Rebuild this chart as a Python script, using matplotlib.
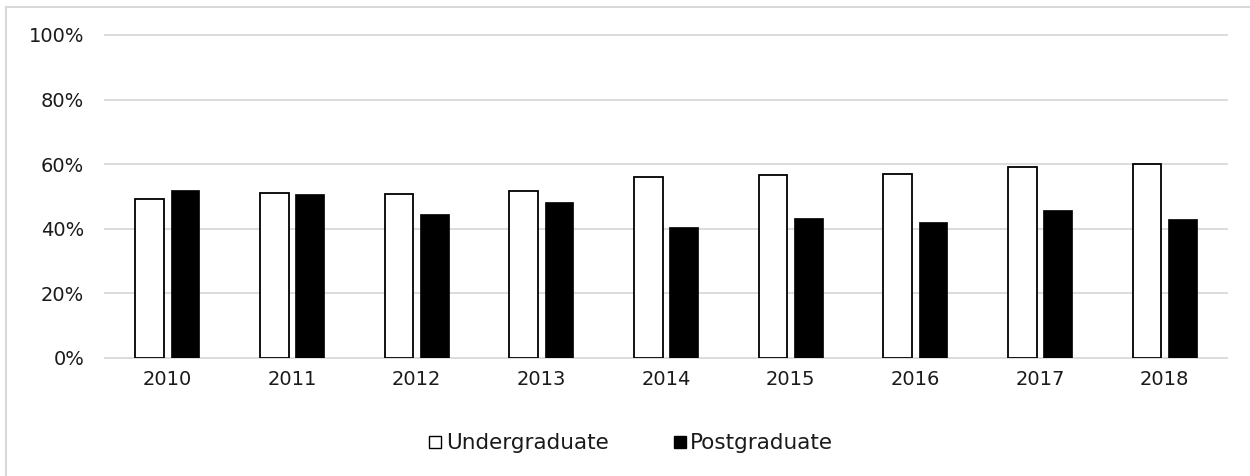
import numpy as np
import matplotlib
matplotlib.use('Agg')
from matplotlib import pyplot as plt
from matplotlib.ticker import PercentFormatter
from matplotlib.lines import Line2D

plt.rcParams['font.family'] = ['DejaVu Sans']

years = ['2010', '2011', '2012', '2013', '2014', '2015', '2016', '2017', '2018']
undergraduate = [49.3, 51.1, 50.8, 51.6, 56.0, 56.5, 57.1, 59.2, 60.0]
postgraduate = [52.0, 50.7, 44.5, 48.4, 40.7, 43.3, 42.1, 45.9, 43.0]

fig = plt.figure(figsize=(12.5, 4.76), dpi=100)
ax = fig.add_axes([0.084, 0.2479, 0.8976, 0.6786])

x = np.arange(len(years))
w = 0.23
gap = 0.056
ax.bar(x - (w + gap) / 2, undergraduate, w, color='white', edgecolor='black', linewidth=1.3, zorder=3)
ax.bar(x + (w + gap) / 2, postgraduate, w, color='black', edgecolor='black', linewidth=0.5, zorder=3)

ax.set_xlim(-0.5, len(years) - 0.5)
ax.set_ylim(0, 100)
ax.set_yticks(range(0, 101, 20))
ax.yaxis.set_major_formatter(PercentFormatter(decimals=0))
ax.set_xticks(x)
ax.set_xticklabels(years)
ax.grid(axis='y', color='#d9d9d9', linewidth=1.3, zorder=0)
for gl in ax.get_ygridlines():
    gl.set_clip_on(False)
for s in ax.spines.values():
    s.set_visible(False)
ax.tick_params(length=0, labelsize=14, colors='#1a1a1a')
ax.tick_params(axis='x', pad=9)
ax.tick_params(axis='y', pad=15)

handles = [Line2D([], [], marker='s', linestyle='none', markersize=9, markerfacecolor='white',
                  markeredgecolor='black', markeredgewidth=1.0),
           Line2D([], [], marker='s', linestyle='none', markersize=9, markerfacecolor='black',
                  markeredgecolor='black')]
fig.legend(handles, ['Undergraduate', 'Postgraduate'], loc='center', bbox_to_anchor=(0.503, 0.069),
           ncol=2, frameon=False, fontsize=15.5, handletextpad=0.0, columnspacing=2.8, handlelength=1.0,
           labelcolor='#1a1a1a')

# chart frame (left and top edges visible)
fig.add_artist(Line2D([0.0048, 0.0048], [0, 0.985], color='#d9d9d9', linewidth=1.5))
fig.add_artist(Line2D([0.0048, 1.0], [0.985, 0.985], color='#d9d9d9', linewidth=1.5))

fig.savefig('out.png', dpi=100)
